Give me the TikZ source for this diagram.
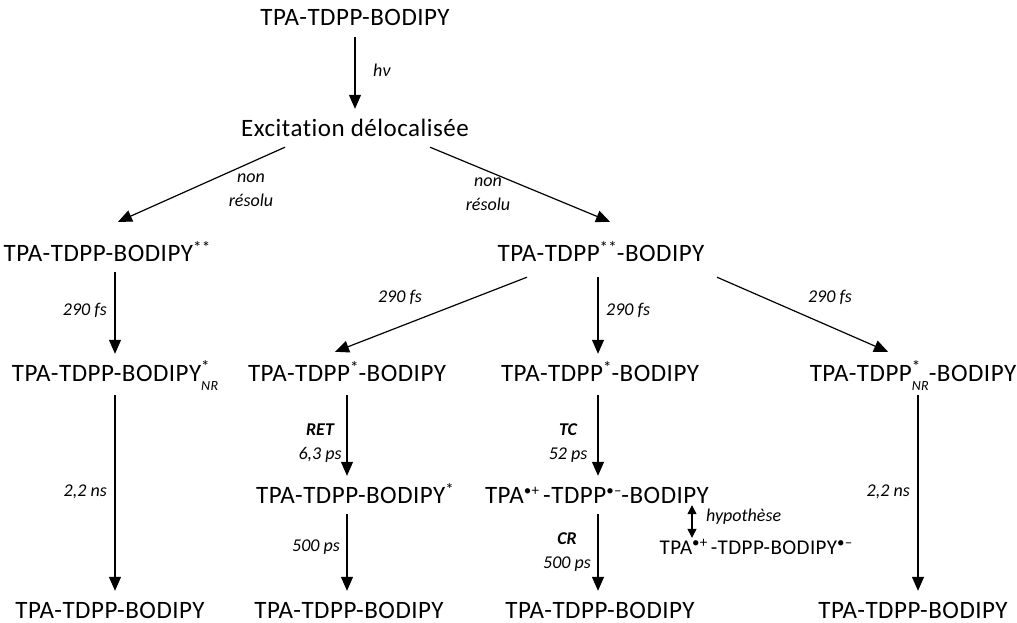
\documentclass[tikz,border=0pt]{standalone}
\usepackage{fontspec}
\setmainfont{Carlito}
\newfontfamily\molfont{Carlito}[LetterSpace=2,Ligatures=NoCommon]
\usetikzlibrary{arrows.meta}
\newcommand\mainsz{\molfont\fontsize{25}{29}\selectfont}
\newcommand\labsz{\fontsize{18}{24}\selectfont}
\newcommand\stk[2]{\makebox[0pt][l]{\raisebox{0.36em}{\fontsize{17}{17}\selectfont #1}}\raisebox{-0.38em}{\fontsize{14}{14}\selectfont\itshape #2}}
\newcommand\sups[1]{\raisebox{0.32em}{\fontsize{15}{15}\selectfont #1}}
\newcommand\astx[1]{\raisebox{0.3em}{\fontsize{17}{17}\selectfont #1}}
\tikzset{
  mol/.style={font=\mainsz, inner xsep=0pt, inner ysep=11pt, text height=16pt, text depth=0pt, anchor=base},
  molsm/.style={font=\molfont\fontsize{21}{24}\selectfont, inner xsep=0pt, inner ysep=6pt, text height=14pt, text depth=0pt, anchor=base},
  lab/.style={font=\labsz\itshape, inner sep=0pt, align=center},
  arr/.style={line width=1.2pt, -{Triangle[width=12pt,length=14pt]}},
  darr/.style={line width=1.2pt, {Triangle[width=9pt,length=9pt]}-{Triangle[width=9pt,length=9pt]}}
}
\begin{document}
\begin{tikzpicture}[x=1pt,y=-1pt]
\useasboundingbox (0,0) rectangle (1017,623);
% columns
\coordinate (xT) at (355,0);
\coordinate (xL) at (115,0);
\coordinate (xM) at (347,0);
\coordinate (xC) at (598,0);
\coordinate (xR) at (918,0);
\coordinate (xH) at (692,0);
% nodes
\node[mol] (A) at (355,26) {TPA-TDPP-BODIPY};
\node[mol] (B) at (355,136) {Excitation délocalisée};
\node[mol] (C1) at (107,261) {TPA-TDPP-BODIPY\astx{**}};
\node[mol] (C2) at (601,261) {TPA-TDPP\astx{**}-BODIPY};
\node[mol] (D1) at (115,381) {TPA-TDPP-BODIPY\stk{*}{NR}};
\node[mol] (D2) at (347,381) {TPA-TDPP\astx{*}-BODIPY};
\node[mol] (D3) at (600,381) {TPA-TDPP\astx{*}-BODIPY};
\node[mol] (D4) at (913,381) {TPA-TDPP\stk{*}{NR}-BODIPY};
\node[mol] (E2) at (355,503) {TPA-TDPP-BODIPY\astx{*}};
\node[mol] (E3) at (597,503) {TPA\sups{•+}\,-TDPP\sups{•–}-BODIPY};
\node[molsm] (E4) at (756,554) {TPA\sups{•+}\,-TDPP-BODIPY\sups{•–}};
\node[mol] (F1) at (110,618) {TPA-TDPP-BODIPY};
\node[mol] (F2) at (349,618) {TPA-TDPP-BODIPY};
\node[mol] (F3) at (600,618) {TPA-TDPP-BODIPY};
\node[mol] (F4) at (913,618) {TPA-TDPP-BODIPY};
% connectors
\draw[arr] (A.south -| xT) -- (B.north -| xT);
\draw[arr] ([xshift=-70pt]B.south) -- ([xshift=11pt,yshift=12pt]C1.north);
\draw[arr] ([xshift=75pt]B.south) -- ([xshift=9pt,yshift=12pt]C2.north);
\draw[arr] (C1.south -| xL) -- (D1.north -| xL);
\draw[arr] ([xshift=-74pt,yshift=-5pt]C2.south) -- ([xshift=-12pt,yshift=2pt]D2.north);
\draw[arr] ([yshift=-5pt]C2.south -| xC) -- (D3.north -| xC);
\draw[arr] ([xshift=116pt,yshift=-5pt]C2.south) -- ([xshift=-25pt,yshift=2pt]D4.north);
\draw[arr] ([yshift=-3pt]D1.south -| xL) -- (F1.north -| xL);
\draw[arr] ([yshift=-3pt]D2.south -| xM) -- (E2.north -| xM);
\draw[arr] ([yshift=-3pt]D3.south -| xC) -- (E3.north -| xC);
\draw[arr] ([yshift=-3pt]D4.south -| xR) -- (F4.north -| xR);
\draw[arr] (E2.south -| xM) -- (F2.north -| xM);
\draw[arr] (E3.south -| xC) -- (F3.north -| xC);
\draw[darr] ([yshift=9pt]E3.south -| xH) -- ([yshift=-4pt]E4.north -| xH);
% labels
\node[lab, anchor=west] (l0) at (373,70) {hν};
\node[lab] (l1) at (251,190) {non\\résolu};
\node[lab] (l2) at (488,194) {non\\résolu};
\node[lab, anchor=east] (l3) at (107,310) {290 fs};
\node[lab] (l4) at (400,297) {290 fs};
\node[lab, anchor=west] (l5) at (606,310) {290 fs};
\node[lab] (l6) at (830,297) {290 fs};
\node[lab, anchor=east] (l7) at (107,492) {2,2 ns};
\node[lab, anchor=east] (l8) at (910,492) {2,2 ns};
\node[lab] (l9) at (320,443) {\textbf{RET}\\6,3 ps};
\node[lab, anchor=east] (l10) at (340,547) {500 ps};
\node[lab] (l11) at (568,443) {\textbf{TC}\\52 ps};
\node[lab] (l12) at (567,552) {\textbf{CR}\\500 ps};
\node[lab, anchor=west] (l13) at (706,517) {hypothèse};
\end{tikzpicture}
\end{document}
